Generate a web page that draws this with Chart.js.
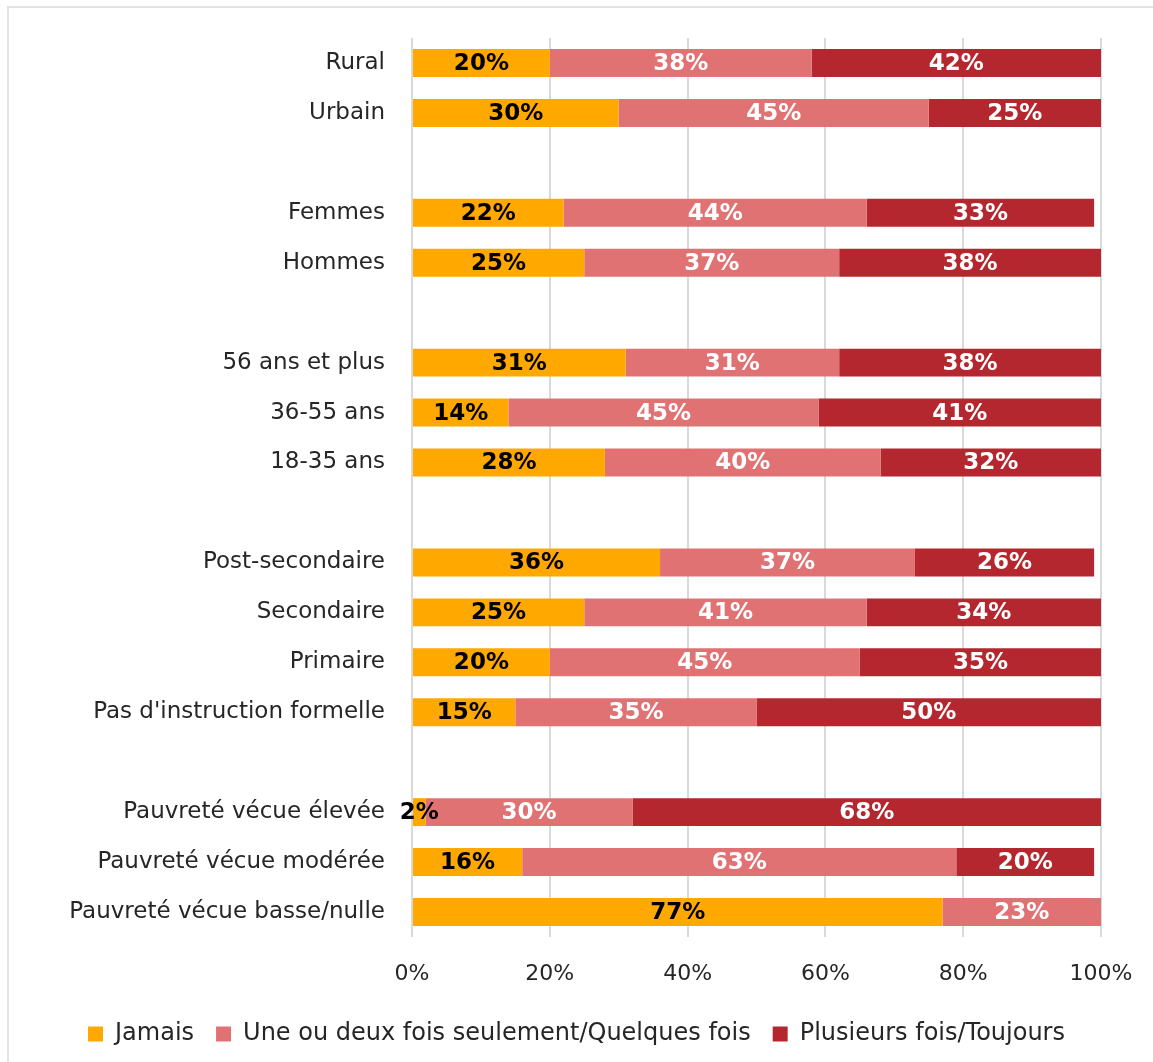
<!DOCTYPE html>
<html>
<head>
<meta charset="utf-8">
<script src="https://cdn.jsdelivr.net/npm/chart.js@4/dist/chart.umd.min.js"></script>
<style>
  html, body { margin: 0; padding: 0; background: #fff; }
  #wrap { position: relative; width: 1153px; height: 1062px; }
  #frame { position: absolute; left: 7px; top: 6px; right: 0; bottom: 0;
           border-top: 2px solid #e3e3e3; border-left: 2px solid #e3e3e3; pointer-events: none; }
</style>
</head>
<body>
<div id="wrap">
  <canvas id="chart" width="1153" height="1062"></canvas>
  <div id="frame"></div>
</div>
<script>
// categories, blank strings are the gaps between groups
var categories = [
    "Rural", "Urbain", "",
    "Femmes", "Hommes", "",
    "56 ans et plus", "36-55 ans", "18-35 ans", "",
    "Post-secondaire", "Secondaire", "Primaire", "Pas d'instruction formelle", "",
    "Pauvreté vécue élevée", "Pauvreté vécue modérée", "Pauvreté vécue basse/nulle"
];
var seriesNames = ["Jamais", "Une ou deux fois seulement/Quelques fois", "Plusieurs fois/Toujours"];
var jamais     = [20, 30, null, 22, 25, null, 31, 14, 28, null, 36, 25, 20, 15, null,  2, 16, 77];
var quelques   = [38, 45, null, 44, 37, null, 31, 45, 40, null, 37, 41, 45, 35, null, 30, 63, 23];
var plusieurs  = [42, 25, null, 33, 38, null, 38, 41, 32, null, 26, 34, 35, 50, null, 68, 20,  0];
var xTicks = [0, 20, 40, 60, 80, 100];

var colors = ["#FFA800", "#E07274", "#B5272E"];
var labelColors = ["#000000", "#ffffff", "#ffffff"];
var font = "'DejaVu Sans', sans-serif";

// draws the percentage in the middle of each segment
var barLabels = {
    id: 'barLabels',
    afterDatasetsDraw: function (chart) {
        var ctx = chart.ctx;
        ctx.save();
        ctx.font = "bold 23px " + font;
        ctx.textAlign = "center";
        ctx.textBaseline = "middle";
        chart.data.datasets.forEach(function (ds, i) {
            var meta = chart.getDatasetMeta(i);
            meta.data.forEach(function (bar, j) {
                var v = ds.data[j];
                if (!v) return;
                ctx.fillStyle = labelColors[i];
                ctx.fillText(v + "%", (bar.x + bar.base) / 2, bar.y + 1);
            });
        });
        ctx.restore();
    }
};

new Chart(document.getElementById('chart'), {
    type: 'bar',
    data: {
        labels: categories,
        datasets: [
            { label: seriesNames[0], data: jamais, backgroundColor: colors[0] },
            { label: seriesNames[1], data: quelques, backgroundColor: colors[1] },
            { label: seriesNames[2], data: plusieurs, backgroundColor: colors[2] }
        ]
    },
    options: {
        indexAxis: 'y',
        responsive: false,
        animation: false,
        datasets: { bar: { categoryPercentage: 0.56, barPercentage: 1.0 } },
        layout: { padding: { top: 38, right: 0, bottom: 6, left: 0 } },
        scales: {
            x: {
                stacked: true,
                min: 0,
                max: 100,
                afterBuildTicks: function (scale) {
                    scale.ticks = xTicks.map(function (v) { return { value: v }; });
                },
                afterFit: function (scale) {
                    scale.height = 63;
                    scale.paddingRight = 52;
                },
                grid: { color: "#d9d9d9", lineWidth: 2, drawTicks: false },
                border: { display: false },
                ticks: {
                    padding: 24,
                    color: "#262626",
                    font: { family: font, size: 22 },
                    callback: function (v) { return v + "%"; }
                }
            },
            y: {
                stacked: true,
                afterFit: function (scale) { scale.width = 412; },
                grid: { display: false },
                border: { display: false },
                ticks: {
                    padding: 19,
                    color: "#262626",
                    autoSkip: false,
                    font: { family: font, size: 23 }
                }
            }
        },
        plugins: {
            legend: {
                position: 'bottom',
                labels: {
                    color: "#262626",
                    font: { family: font, size: 24 },
                    boxWidth: 15,
                    boxHeight: 15,
                    padding: 22
                }
            },
            tooltip: { enabled: false }
        }
    },
    plugins: [barLabels]
});
</script>
</body>
</html>
